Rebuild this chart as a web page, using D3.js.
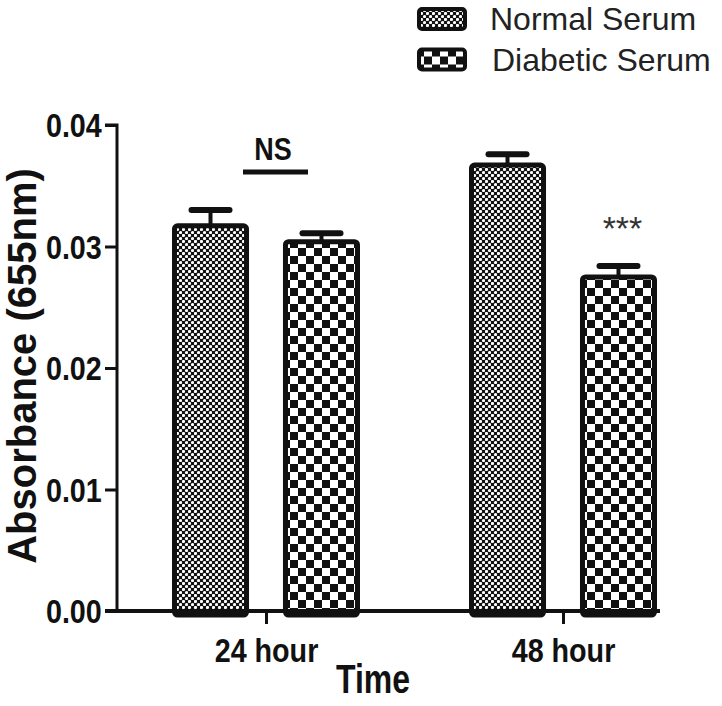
<!DOCTYPE html>
<html>
<head>
<meta charset="utf-8">
<script src="https://cdn.jsdelivr.net/npm/d3@7/dist/d3.min.js"></script>
<style>
  html, body { margin: 0; padding: 0; background: #fff; }
  svg { display: block; }
</style>
</head>
<body>
<svg id="chart" width="722" height="706"></svg>
<script>
// ---- data ----
const categories = ["24 hour", "48 hour"];
const seriesNames = ["Normal Serum", "Diabetic Serum"];
const normalValues = [0.0317, 0.0367];
const normalErrors = [0.0013, 0.0009];
const diabeticValues = [0.0304, 0.0275];
const diabeticErrors = [0.0007, 0.0009];
const yTickValues = [0.00, 0.01, 0.02, 0.03, 0.04];
const yTickLabels = ["0.00", "0.01", "0.02", "0.03", "0.04"];
const xTitle = "Time";
const yTitle = "Absorbance (655nm)";
const nsLabel = "NS";
const sigLabel = "***";

const data = categories.map((c, i) => ({
  cat: c,
  bars: [
    { s: seriesNames[0], v: normalValues[i], e: normalErrors[i] },
    { s: seriesNames[1], v: diabeticValues[i], e: diabeticErrors[i] }
  ]
}));

const svg = d3.select("#chart");
const ink = "#111";
const narrow = "scale(0.87,1)";

// patterns
const defs = svg.append("defs");
const pN = defs.append("pattern").attr("id", "patN")
  .attr("patternUnits", "userSpaceOnUse").attr("width", 6).attr("height", 6);
pN.append("rect").attr("width", 6).attr("height", 6).attr("fill", ink);
pN.append("circle").attr("cx", 1.5).attr("cy", 1.5).attr("r", 1.6).attr("fill", "#fff");
pN.append("circle").attr("cx", 4.5).attr("cy", 4.5).attr("r", 1.6).attr("fill", "#fff");

const pD = defs.append("pattern").attr("id", "patD")
  .attr("patternUnits", "userSpaceOnUse").attr("width", 16).attr("height", 16);
pD.append("rect").attr("width", 16).attr("height", 16).attr("fill", ink);
pD.append("rect").attr("x", 0).attr("y", 0).attr("width", 8).attr("height", 8).attr("fill", "#fff");
pD.append("rect").attr("x", 8).attr("y", 8).attr("width", 8).attr("height", 8).attr("fill", "#fff");

const fillFor = { "Normal Serum": "url(#patN)", "Diabetic Serum": "url(#patD)" };

// scales
const y = d3.scaleLinear().domain([0, 0.04]).range([611, 125]);
const x0 = d3.scalePoint().domain(categories).range([266, 563]);
const x1 = d3.scaleBand().domain(seriesNames).range([-94, 94]).paddingInner(0.306).paddingOuter(0);

// bars
const groups = svg.append("g").selectAll("g").data(data).join("g")
  .attr("transform", d => `translate(${x0(d.cat)},0)`);

groups.selectAll("rect.bar").data(d => d.bars).join("rect")
  .attr("class", "bar")
  .attr("x", d => x1(d.s) + 2.5)
  .attr("width", x1.bandwidth() - 5)
  .attr("y", d => y(d.v))
  .attr("height", d => y(0) - y(d.v) + 4)
  .attr("rx", 3)
  .attr("fill", d => fillFor[d.s])
  .attr("stroke", ink).attr("stroke-width", 5);

// error bars
groups.selectAll("line.stem").data(d => d.bars).join("line")
  .attr("class", "stem")
  .attr("x1", d => x1(d.s) + x1.bandwidth() / 2)
  .attr("x2", d => x1(d.s) + x1.bandwidth() / 2)
  .attr("y1", d => y(d.v))
  .attr("y2", d => y(d.v + d.e))
  .attr("stroke", ink).attr("stroke-width", 4);
groups.selectAll("line.cap").data(d => d.bars).join("line")
  .attr("class", "cap")
  .attr("x1", d => x1(d.s) + x1.bandwidth() / 2 - 19)
  .attr("x2", d => x1(d.s) + x1.bandwidth() / 2 + 19)
  .attr("y1", d => y(d.v + d.e))
  .attr("y2", d => y(d.v + d.e))
  .attr("stroke", ink).attr("stroke-width", 6).attr("stroke-linecap", "round");

// axes
const yAxis = d3.axisLeft(y).tickValues(yTickValues)
  .tickFormat((d, i) => yTickLabels[i]).tickSize(12).tickPadding(3);
const gy = svg.append("g").attr("transform", "translate(117,0)").call(yAxis);
gy.select(".domain").attr("stroke", ink).attr("stroke-width", 3).attr("d", `M-12,${y(0.04)}H0V${y(0)}`);
gy.selectAll(".tick line").attr("stroke", ink).attr("stroke-width", 3);
gy.selectAll(".tick text")
  .attr("font-family", "'Liberation Sans', Arial, sans-serif")
  .attr("font-weight", "bold").attr("font-size", 33).attr("fill", ink)
  .attr("transform", narrow).attr("x", -17.5).attr("dy", "0.36em");

const xAxis = d3.axisBottom(x0).tickSize(13).tickPadding(0);
const gx = svg.append("g").attr("transform", `translate(0,${y(0)})`).call(xAxis);
gx.select(".domain").attr("stroke", ink).attr("stroke-width", 4).attr("d", "M105,0H660");
gx.selectAll(".tick line").attr("stroke", ink).attr("stroke-width", 3);
gx.selectAll(".tick text")
  .attr("font-family", "'Liberation Sans', Arial, sans-serif")
  .attr("font-weight", "bold").attr("font-size", 33).attr("fill", ink)
  .attr("transform", narrow).attr("y", 51).attr("dy", 0);

// axis titles
svg.append("text")
  .attr("transform", "translate(373,693) scale(0.8,1)")
  .attr("text-anchor", "middle")
  .attr("font-family", "'Liberation Sans', Arial, sans-serif")
  .attr("font-weight", "bold").attr("font-size", 40).attr("fill", ink)
  .text(xTitle);

svg.append("text")
  .attr("transform", "translate(36,366) rotate(-90)")
  .attr("text-anchor", "middle")
  .attr("font-family", "'Liberation Sans', Arial, sans-serif")
  .attr("font-weight", "bold").attr("font-size", 40).attr("fill", ink)
  .text(yTitle);

// significance
svg.append("line")
  .attr("x1", 243).attr("x2", 308).attr("y1", 172).attr("y2", 172)
  .attr("stroke", ink).attr("stroke-width", 5);
svg.append("text")
  .attr("transform", `translate(273,160) ${narrow}`)
  .attr("text-anchor", "middle")
  .attr("font-family", "'Liberation Sans', Arial, sans-serif")
  .attr("font-weight", "bold").attr("font-size", 31).attr("fill", ink)
  .text(nsLabel);

const sigX = x0(categories[1]) + x1(seriesNames[1]) + x1.bandwidth() / 2;
svg.append("text")
  .attr("x", sigX + 4).attr("y", 240)
  .attr("text-anchor", "middle")
  .attr("font-family", "'Liberation Sans', Arial, sans-serif")
  .attr("font-size", 34).attr("fill", "#333")
  .text(sigLabel);

// legend
const legend = svg.append("g").selectAll("g").data(seriesNames).join("g")
  .attr("transform", (d, i) => `translate(0,${i * 40.5})`);
legend.append("rect")
  .attr("x", 419).attr("y", 9).attr("width", 46).attr("height", 20)
  .attr("rx", 3)
  .attr("fill", d => fillFor[d]).attr("stroke", ink).attr("stroke-width", 4);
legend.append("text")
  .attr("x", (d, i) => 490 + i * 2).attr("y", 30)
  .attr("font-family", "'Liberation Sans', Arial, sans-serif")
  .attr("font-size", 32).attr("fill", "#222")
  .text(d => d);
</script>
</body>
</html>
